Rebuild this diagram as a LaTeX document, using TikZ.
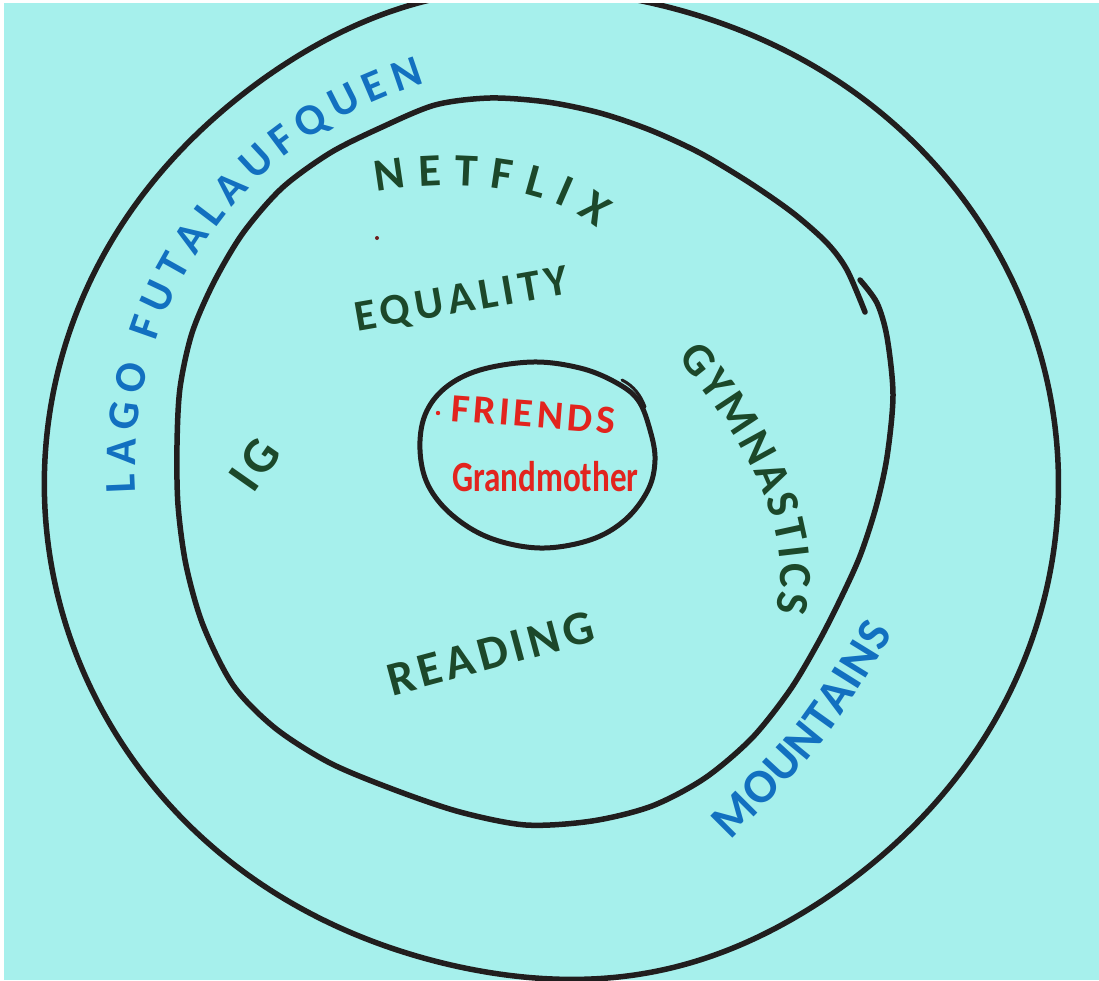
\documentclass[tikz,border=0pt]{standalone}
\usepackage{fontspec}
\setmainfont{Carlito}
\usetikzlibrary{decorations.text}
\definecolor{bg}{RGB}{166,240,236}
\definecolor{ink}{RGB}{33,30,30}
\definecolor{grn}{RGB}{28,72,42}
\definecolor{blu}{RGB}{18,112,192}
\definecolor{rd}{RGB}{226,36,30}
\tikzset{
  ring/.style={draw=ink, line width=5.5pt, line cap=round, line join=round},
  curved/.style={decorate, decoration={text along path, text align={fit to path}, text={#1}}}
}
\begin{document}
\begin{tikzpicture}[x=1pt,y=-1pt]
\useasboundingbox (0,0) rectangle (1099,980);
\fill[bg] (0,0) rectangle (1099,980);
\fill[white] (0,0) rectangle (1099,3);
\fill[white] (0,0) rectangle (4,980);
% outer ring
\begin{scope}
\clip (4,3) rectangle (1099,980);
\draw[ring] plot[smooth cycle, domain=0:358, samples=180]
  ({545+507*cos(\x)*(1+0.022*cos(\x-55)+0.02*(cos(\x-258)*cos(\x-258))^8)},
   {475+488*sin(\x)*(1+0.022*cos(\x-55)+0.02*(cos(\x-258)*cos(\x-258))^8)});
\end{scope}
% middle ring (open, overlapping ends)
\draw[ring] plot[smooth, tension=0.5] coordinates {
 (865,312) (847,270) (827,243) (793,213) (750,183) (700,153) (650,130) (600,113)
 (547,102) (490,98) (435,105) (380,128) (330,153) (282,188) (243,233) (214,282)
 (192,333) (180,388) (177,445) (178,505) (186,565) (203,625) (233,685) (275,728)
 (330,763) (395,790) (460,812) (526,825) (592,821) (652,806) (705,778) (752,738)
 (790,690) (818,643) (840,600) (860,556) (876,507) (887,457) (893,395) (887,337)
 (877,303) (860,280)};
% inner ring
\draw[ring, line width=5pt] plot[smooth cycle, tension=0.6] coordinates {
 (533,362) (580,368) (615,382) (638,400) (650,430) (655,460) (648,490) (625,520)
 (590,540) (540,548) (490,538) (452,515) (428,485) (420,450) (425,415) (445,388)
 (480,370)};
\draw[ring, line width=3pt] (622,380) .. controls (634,386) and (641,396) .. (645,407);
% outer band texts
\path[curved={|\fontsize{44}{44}\selectfont\bfseries\color{blu}|LAGO FUTALAUFQUEN}]
  plot[domain=183.5:106, samples=40] ({535+400*cos(\x)},{468-400*sin(\x)});
\path[curved={|\fontsize{48}{48}\selectfont\bfseries\color{blu}|MOUNTAINS}]
  (730,840) .. controls (824,746) .. (893,633);
% middle band texts
\path[curved={|\fontsize{46}{46}\selectfont\bfseries\color{grn}|NETFLIX}]
  (377,192) .. controls (440,180) and (540,180) .. (597,228);
\path[curved={|\fontsize{44}{44}\selectfont\bfseries\color{grn}|EQUALITY}]
  (357,331) -- (570,294);
\path[curved={|\fontsize{46}{46}\selectfont\bfseries\color{grn}|GYMNASTICS}]
  (677,358) .. controls (715,405) and (800,510) .. (776,612);
\path[curved={|\fontsize{48}{48}\selectfont\bfseries\color{grn}|READING}]
  (392,696) -- (597,641);
\node[font=\fontsize{50}{50}\selectfont\bfseries, text=grn, rotate=55, inner sep=0pt] (ig) at (255,465) {I\kern5pt G};
% inner texts
\path[curved={|\fontsize{40}{40}\selectfont\bfseries\color{rd}|FRIENDS}]
  (450,421) -- (614,434);
\node[font=\fontsize{43}{43}\selectfont\bfseries, text=rd, anchor=base west, inner sep=0pt, xscale=0.77, transform shape] (gm) at (452,491) {Grandmother};
\fill[rd] (438,413) circle (2.2);
\fill[ink!60!rd] (377,238) circle (2);
\end{tikzpicture}
\end{document}
